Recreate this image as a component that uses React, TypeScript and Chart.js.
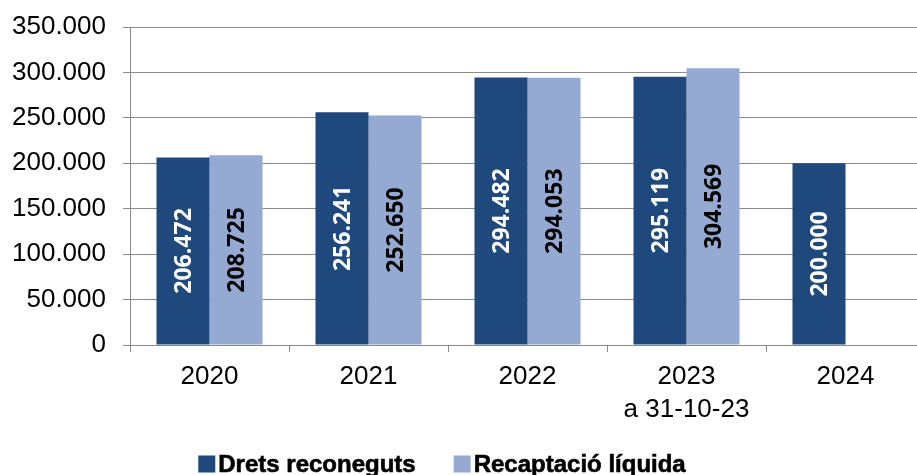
import React, { useEffect, useRef } from 'react';
import { Chart, registerables } from 'chart.js';

Chart.register(...registerables);

const categories: string[][] = [['2020'], ['2021'], ['2022'], ['2023', 'a 31-10-23'], ['2024']];
const seriesNames = ['Drets reconeguts', 'Recaptació líquida'];
const dretsReconeguts = [206472, 256241, 294482, 295119, 200000];
const recaptacioLiquida: (number | null)[] = [208725, 252650, 294053, 304569, null];
const yMin = 0;
const yMax = 350000;
const yStep = 50000;

const barColors = ['#1F497D', '#95AAD3'];
const labelColors = ['#FFFFFF', '#000000'];
const gridColor = '#8A8A8A';

const fmt = (v: number) => String(Math.round(v)).replace(/\B(?=(\d{3})+(?!\d))/g, '.');

const barLabels = {
  id: 'barLabels',
  afterDatasetsDraw(chart: any) {
    const ctx = chart.ctx;
    chart.data.datasets.forEach((ds: any, i: number) => {
      const meta = chart.getDatasetMeta(i);
      meta.data.forEach((bar: any, j: number) => {
        const v = ds.data[j];
        if (v == null) return;
        const { x, y, base } = bar.getProps(['x', 'y', 'base'], true);
        ctx.save();
        ctx.translate(x, (y + base) / 2);
        ctx.rotate(-Math.PI / 2);
        ctx.font = 'bold 23px "Open Sans"';
        ctx.fillStyle = labelColors[i];
        ctx.textAlign = 'center';
        ctx.textBaseline = 'middle';
        ctx.fillText(fmt(v), 0, 1);
        ctx.restore();
      });
    });
  },
};

const customLegend = {
  id: 'customLegend',
  afterDraw(chart: any) {
    const ctx = chart.ctx;
    ctx.save();
    ctx.font = 'bold 24px "Liberation Sans", Arial, sans-serif';
    const box = 17;
    const gapText = 3;
    const gapItem = 38;
    const items = chart.data.datasets.map((ds: any) => ({
      label: ds.label,
      color: ds.backgroundColor,
      w: box + gapText + ctx.measureText(ds.label).width,
    }));
    const total = items.reduce((s: number, it: any) => s + it.w, 0) + gapItem * (items.length - 1);
    let x = 442 - total / 2;
    const yc = 464;
    items.forEach((it: any) => {
      ctx.fillStyle = it.color;
      ctx.fillRect(x, yc - box / 2, box, box);
      ctx.fillStyle = '#000000';
      ctx.strokeStyle = '#000000';
      ctx.lineWidth = 0.6;
      ctx.textAlign = 'left';
      ctx.textBaseline = 'middle';
      ctx.fillText(it.label, x + box + gapText, yc + 1);
      ctx.strokeText(it.label, x + box + gapText, yc + 1);
      x += it.w + gapItem;
    });
    ctx.restore();
  },
};

export default function App() {
  const ref = useRef<HTMLCanvasElement | null>(null);
  useEffect(() => {
    if (!ref.current) return;
    const chart = new Chart(ref.current, {
      type: 'bar',
      data: {
        labels: categories,
        datasets: [
          {
            label: seriesNames[0],
            data: dretsReconeguts,
            backgroundColor: barColors[0],
            categoryPercentage: 0.667,
            barPercentage: 1,
          },
          {
            label: seriesNames[1],
            data: recaptacioLiquida,
            backgroundColor: barColors[1],
            categoryPercentage: 0.667,
            barPercentage: 1,
          },
        ],
      },
      options: {
        animation: false,
        responsive: false,
        layout: { padding: { top: 27, left: 12, right: 5, bottom: 40 } },
        plugins: {
          legend: { display: false },
          tooltip: { enabled: false },
        },
        scales: {
          x: {
            grid: {
              display: true,
              drawOnChartArea: false,
              drawTicks: true,
              tickLength: 7,
              color: gridColor,
              offset: true,
            },
            border: { color: gridColor, width: 1 },
            ticks: {
              color: '#000000',
              font: { family: '"Liberation Sans", Arial, sans-serif', size: 26, lineHeight: 1.25 },
              padding: 9,
              maxRotation: 0,
            },
          },
          y: {
            min: yMin,
            max: yMax,
            afterFit: (s: any) => {
              s.width = 118;
            },
            grid: { color: gridColor, tickLength: 7, lineWidth: 1 },
            border: { color: gridColor, width: 1 },
            ticks: {
              stepSize: yStep,
              color: '#000000',
              padding: 17,
              font: { family: '"Liberation Sans", Arial, sans-serif', size: 26, lineHeight: 0.7 },
              callback: (v: any) => fmt(Number(v)),
            },
          },
        },
      },
      plugins: [barLabels, customLegend],
    });
    return () => chart.destroy();
  }, []);
  return (
    <div style={{ position: 'fixed', left: 0, top: 0, width: 917, height: 475, overflow: 'hidden', background: '#fff' }}>
      <canvas ref={ref} width={930} height={475} style={{ display: 'block' }} />
    </div>
  );
}
